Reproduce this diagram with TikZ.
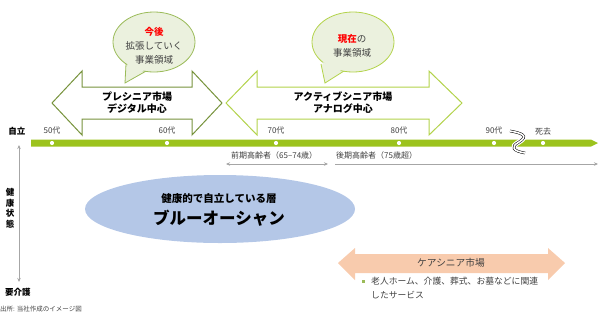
\documentclass[tikz,border=0pt]{standalone}
\usepackage{fontspec}
\setmainfont{Noto Sans CJK JP}
\usetikzlibrary{arrows.meta}
\definecolor{tlgreen}{HTML}{9CC31D}
\definecolor{olive}{HTML}{77933C}
\definecolor{lime}{HTML}{B3D34B}
\definecolor{bubfill}{HTML}{EBF1DE}
\definecolor{bub1}{HTML}{9BBB59}
\definecolor{bub2}{HTML}{B3D34B}
\definecolor{txtgray}{HTML}{404040}
\definecolor{axgray}{HTML}{A6A6A6}
\definecolor{ocean}{HTML}{B4C7E7}
\definecolor{peach}{HTML}{F8CBAD}
\definecolor{redt}{HTML}{FF0000}
\tikzset{
  lbl/.style={font=\fontsize{8}{9}\selectfont, text=txtgray, inner sep=0pt},
  mkt/.style={font=\bfseries\fontsize{10}{12}\selectfont, text=black, inner sep=0pt, align=center},
  bubtxt/.style={font=\fontsize{9.5}{14}\selectfont, text=txtgray, inner sep=0pt, align=center},
  axlbl/.style={font=\bfseries\fontsize{8.5}{10}\selectfont, text=black, inner sep=0pt},
  agearrow/.style={draw=axgray, line width=0.7pt},
}
\begin{document}
\begin{tikzpicture}[x=1pt,y=-1pt]
\useasboundingbox (0,0) rectangle (600,317);
% market arrows
\draw[olive, line width=1pt, fill=white] (52,103) -- (82,71) -- (82,87) -- (192,87) -- (192,71) -- (222,103) -- (192,135) -- (192,119) -- (82,119) -- (82,135) -- cycle;
\draw[lime, line width=1pt, fill=white] (226,103) -- (257,71) -- (257,87) -- (429,87) -- (429,71) -- (462,103) -- (429,135) -- (429,119) -- (257,119) -- (257,135) -- cycle;
\node[mkt] (pre) at (137,103) {プレシニア市場\\デジタル中心};
\node[mkt] (act) at (343,103) {アクティブシニア市場\\アナログ中心};
% bubble 1
\filldraw[fill=bubfill, draw=bub1, line width=0.8pt] (126,64) -- (125,83) -- (148,70);
\filldraw[fill=bubfill, draw=bub1, line width=0.8pt] (154,42) ellipse [x radius=41, y radius=30];
\fill[bubfill] (127.5,62) -- (126.2,80.5) -- (146,69) -- cycle;
\node[bubtxt] (b1) at (154,46) {{\bfseries\color{redt}今後}\\拡張していく\\事業領域};
% bubble 2
\filldraw[fill=bubfill, draw=bub2, line width=0.8pt] (321,64) -- (325,83) -- (344,71);
\filldraw[fill=bubfill, draw=bub2, line width=0.8pt] (353,42) ellipse [x radius=41, y radius=30];
\fill[bubfill] (322.5,62) -- (325.8,80.5) -- (342,69.5) -- cycle;
\node[bubtxt] (b2) at (352,45.5) {{\bfseries\color{redt}現在}の\\事業領域};
% timeline
\fill[tlgreen] (31,139.5) -- (591,139.5) -- (598,143) -- (591,146.5) -- (31,146.5) -- cycle;
\foreach \x/\t/\n in {52/50代/a,167/60代/b,276/70代/c,399/80代/d,494/90代/e,543/死去/f}{
  \fill[white] (\x,143) circle (2.1);
  \node[lbl] (t\n) at (\x,131) {\t};
}
% break mark
\draw[white, line width=5pt] (510,131) .. controls (522,133) and (529,136) .. (519,142) .. controls (510,147) and (513,151) .. (525,153);
\draw[black, line width=0.5pt, double=white, double distance=1.6pt] (510,131) .. controls (522,133) and (529,136) .. (519,142) .. controls (510,147) and (513,151) .. (525,153);
% axis
\node[axlbl] (jiritsu) at (17,131) {自立};
\node[axlbl] (yokaigo) at (18,292) {要介護};
\node[axlbl, align=center, font=\bfseries\fontsize{8.5}{10.5}\selectfont] (kenko) at (10,208) {健\\康\\状\\態};
\coordinate (axtop) at (19,145);
\coordinate (axbot) at (19,282);
\draw[axgray, line width=0.8pt, {Stealth[length=4pt,width=3.5pt]}-{Stealth[length=4pt,width=3.5pt]}] (axtop) -- (axbot);
% age groups
\node[lbl, anchor=west] (zenki) at (231,155) {前期高齢者（65–74歳）};
\node[lbl, anchor=west] (koki) at (336,155) {後期高齢者（75歳超）};
\coordinate (z1) at (226,164);
\coordinate (z2) at (328,164);
\coordinate (k1) at (335,164);
\coordinate (k2) at (598,164);
\draw[agearrow, {Stealth[length=4pt,width=3.5pt]}-{Stealth[length=4pt,width=3.5pt]}] (z1) -- (z2);
\draw[agearrow, -{Stealth[length=4pt,width=3.5pt]}] (k1) -- (k2);
% blue ocean
\fill[ocean] (220,209) ellipse [x radius=135, y radius=34];
\node[font=\bfseries\fontsize{10.5}{12}\selectfont, text=black, inner sep=0pt] (bo1) at (219,199) {健康的で自立している層};
\node[font=\bfseries\fontsize{16.5}{18}\selectfont, text=black, inner sep=0pt] (bo2) at (219,218) {ブルーオーシャン};
% care market
\fill[peach] (338,263) -- (355,248) -- (355,254) -- (548,254) -- (548,248) -- (565,263) -- (548,280) -- (548,273) -- (355,273) -- (355,280) -- cycle;
\node[font=\fontsize{9.7}{11}\selectfont, text=txtgray, inner sep=0pt] (care) at (451,263) {ケアシニア市場};
\fill[bub1] (362,280) rectangle (364.5,282.5);
\node[font=\fontsize{8.8}{10}\selectfont, text=txtgray, inner sep=0pt, anchor=west] (c1) at (371,281) {老人ホーム、介護、葬式、お墓などに関連};
\node[font=\fontsize{8.8}{10}\selectfont, text=txtgray, inner sep=0pt, anchor=west] (c2) at (371,295) {したサービス};
% source
\node[font=\fontsize{6.5}{8}\selectfont, text=txtgray, inner sep=0pt, anchor=west] (src) at (0,309) {出所: 当社作成のイメージ図};
\end{tikzpicture}
\end{document}
